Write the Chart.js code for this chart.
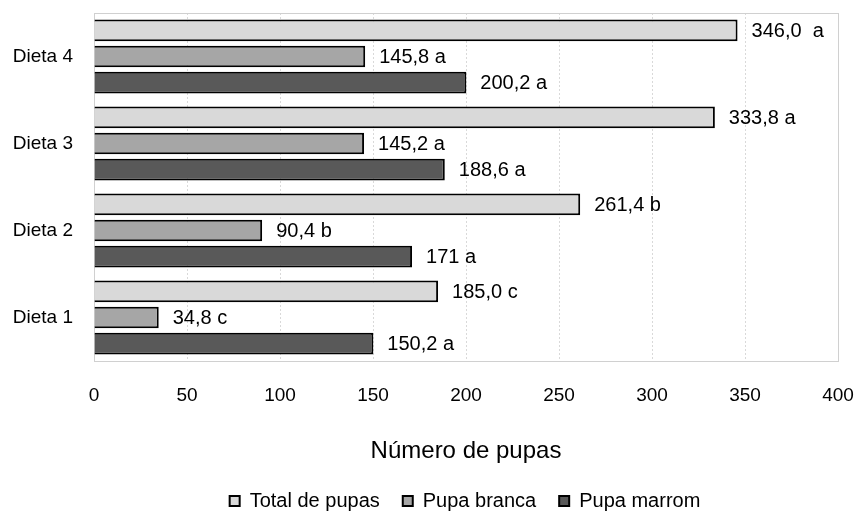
<!DOCTYPE html>
<html>
<head>
<meta charset="utf-8">
<script src="https://cdn.jsdelivr.net/npm/chart.js@4/dist/chart.umd.min.js"></script>
<style>
  html, body { margin: 0; padding: 0; background: #fff; }
  #wrap { width: 856px; height: 512px; position: relative; }
</style>
</head>
<body>
<div id="wrap"><canvas id="chart"></canvas></div>
<script>
// --- Data ---
const categories = ['Dieta 4', 'Dieta 3', 'Dieta 2', 'Dieta 1'];
const totalPupas = [346.0, 333.8, 261.4, 185.0];
const pupaBranca = [145.8, 145.2, 90.4, 34.8];
const pupaMarrom = [200.2, 188.6, 171, 150.2];
const totalLabels = ['346,0  a', '333,8 a', '261,4 b', '185,0 c'];
const brancaLabels = ['145,8 a', '145,2 a', '90,4 b', '34,8 c'];
const marromLabels = ['200,2 a', '188,6 a', '171 a', '150,2 a'];
const xTicks = [0, 50, 100, 150, 200, 250, 300, 350, 400];

const FONT = "'Liberation Sans', Arial, sans-serif";
Chart.defaults.font.family = FONT;
Chart.defaults.color = '#000';

// value labels next to each bar
const valueLabels = {
  id: 'valueLabels',
  afterDatasetsDraw(chart) {
    const ctx = chart.ctx;
    ctx.save();
    ctx.font = '20px ' + FONT;
    ctx.fillStyle = '#000';
    ctx.textBaseline = 'middle';
    ctx.textAlign = 'left';
    chart.data.datasets.forEach((ds, i) => {
      chart.getDatasetMeta(i).data.forEach((el, j) => {
        ctx.fillText(ds.valueLabels[j], el.x + 14, el.y + 1);
      });
    });
    ctx.restore();
  }
};

// light frame round the plot area, and legend nudged under the plot
const plotFrame = {
  id: 'plotFrame',
  afterLayout(chart) {
    const lg = chart.legend;
    if (!lg) return;
    lg.left += 46; lg.right += 46;
    lg.top += 9; lg.bottom += 9;
  },
  beforeDatasetsDraw(chart) {
    const { ctx, chartArea: a } = chart;
    ctx.save();
    ctx.strokeStyle = '#d0d0d0';
    ctx.lineWidth = 1;
    ctx.strokeRect(a.left + 0.5, a.top + 0.5, a.right - a.left, a.bottom - a.top);
    ctx.restore();
  }
};

new Chart(document.getElementById('chart'), {
  type: 'bar',
  data: {
    labels: categories,
    datasets: [
      { label: 'Total de pupas', data: totalPupas, valueLabels: totalLabels,
        backgroundColor: '#d9d9d9', borderColor: '#000', borderWidth: 2 },
      { label: 'Pupa branca', data: pupaBranca, valueLabels: brancaLabels,
        backgroundColor: '#a6a6a6', borderColor: '#000', borderWidth: 2 },
      { label: 'Pupa marrom', data: pupaMarrom, valueLabels: marromLabels,
        backgroundColor: '#595959', borderColor: '#000', borderWidth: 2 },
    ],
  },
  options: {
    indexAxis: 'y',
    responsive: true,
    maintainAspectRatio: false,
    animation: false,
    categoryPercentage: 0.9,
    barPercentage: 0.83,
    layout: { padding: { top: 13, right: 18, left: 0, bottom: 0 } },
    scales: {
      x: {
        min: 0,
        max: 400,
        afterBuildTicks: (s) => { s.ticks = xTicks.map((v) => ({ value: v })); },
        afterFit: (s) => { s.height = 98; s.paddingLeft = 0; s.paddingRight = 0; },
        ticks: { font: { size: 19 }, padding: 23, color: '#000' },
        grid: { color: '#d9d9d9', drawTicks: false, lineWidth: 1 },
        border: { display: false, dash: [2, 2] },
        title: {
          display: true,
          text: 'Número de pupas',
          font: { size: 24 },
          color: '#000',
          padding: { top: 0, bottom: -7 },
        },
      },
      y: {
        afterFit: (s) => { s.width = 94; s.paddingTop = 0; s.paddingBottom = 0; },
        ticks: { font: { size: 19 }, padding: 21, color: '#000' },
        grid: { display: true, drawOnChartArea: false, drawTicks: false },
        border: { display: true, color: '#000', width: 1 },
      },
    },
    plugins: {
      legend: {
        position: 'bottom',
        labels: {
          boxWidth: 10,
          boxHeight: 10,
          padding: 23,
          font: { size: 20 },
          color: '#000',
          generateLabels: (chart) => chart.data.datasets.map((ds, i) => ({
            text: ds.label,
            fillStyle: ds.backgroundColor,
            strokeStyle: '#000',
            lineWidth: 2,
            datasetIndex: i,
          })),
        },
      },
      tooltip: { enabled: false },
    },
  },
  plugins: [plotFrame, valueLabels],
});
</script>
</body>
</html>
